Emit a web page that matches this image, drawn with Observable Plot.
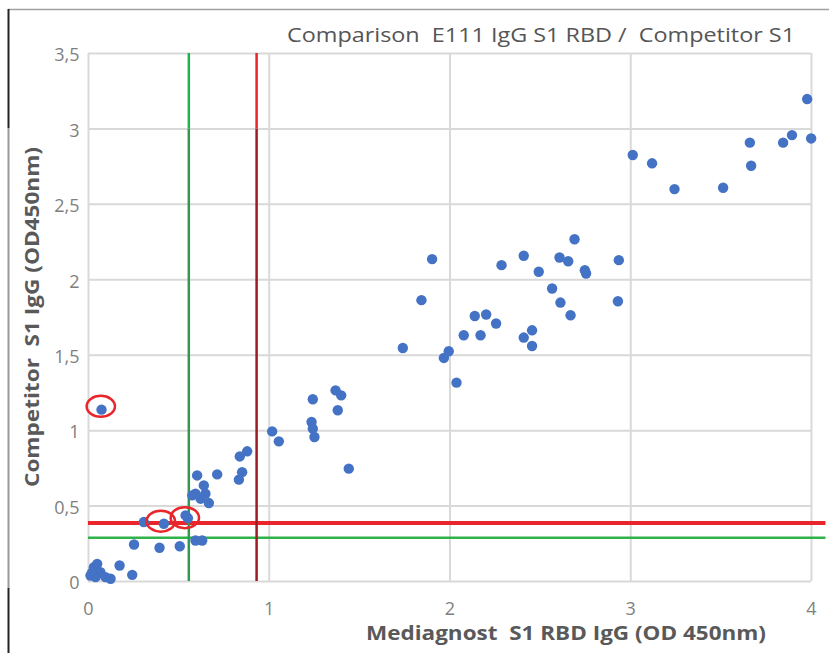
<!DOCTYPE html>
<html>
<head>
<meta charset="utf-8">
<script src="https://cdn.jsdelivr.net/npm/d3@7"></script>
<script src="https://cdn.jsdelivr.net/npm/@observablehq/plot@0.6"></script>
<style>
  html, body { margin: 0; padding: 0; background: #fff; }
  #chart svg { display: block; }
</style>
</head>
<body>
<div id="chart"></div>
<script>
const title = "Comparison  E111 IgG S1 RBD /  Competitor S1";
const xLabel = "Mediagnost  S1 RBD IgG (OD 450nm)";
const yLabel = "Competitor  S1 IgG (OD450nm)";

const xTicks = [0, 1, 2, 3, 4];
const yTicks = [0, 0.5, 1, 1.5, 2, 2.5, 3, 3.5];

// Mediagnost S1 RBD IgG (x) vs Competitor S1 IgG (y)
const mediagnost = [
  0.011, 0.030, 0.048, 0.066, 0.039, 0.094, 0.122, 0.020,
  0.172, 0.242, 0.252, 0.306, 0.417, 0.393, 0.505, 0.537, 0.550, 0.592, 0.629,
  0.601, 0.712, 0.638, 0.592, 0.647, 0.620, 0.666, 0.574,
  0.832, 0.850, 0.837, 0.878, 1.016, 1.053,
  0.072,
  1.241, 1.367, 1.398, 1.379, 1.234, 1.241, 1.250, 1.440,
  1.739, 1.842, 1.901, 1.993, 1.966, 2.036, 2.076, 2.137, 2.200, 2.169, 2.255,
  2.285, 2.408, 2.491, 2.454, 2.408, 2.454, 2.565, 2.606, 2.654, 2.689, 2.611,
  2.667, 2.746, 2.753, 2.934, 2.929,
  3.011, 3.118, 3.242, 3.511, 3.659, 3.666, 3.843, 3.892, 3.998, 3.976
];
const competitor = [
  0.040, 0.095, 0.117, 0.062, 0.029, 0.029, 0.018, 0.060,
  0.106, 0.044, 0.245, 0.394, 0.383, 0.224, 0.234, 0.438, 0.420, 0.272, 0.272,
  0.703, 0.710, 0.637, 0.582, 0.582, 0.549, 0.520, 0.571,
  0.675, 0.725, 0.829, 0.863, 0.995, 0.929,
  1.139,
  1.208, 1.267, 1.234, 1.135, 1.057, 1.013, 0.958, 0.748,
  1.548, 1.865, 2.137, 1.526, 1.482, 1.318, 1.632, 1.760, 1.770, 1.632, 1.710,
  2.097, 2.159, 2.053, 1.665, 1.617, 1.561, 1.942, 2.148, 2.123, 2.269, 1.849,
  1.765, 2.064, 2.042, 2.130, 1.858,
  2.827, 2.772, 2.601, 2.610, 2.909, 2.756, 2.909, 2.959, 2.937, 3.198
];

// highlighted (circled) samples
const circledX = [0.068, 0.400, 0.533];
const circledY = [1.161, 0.400, 0.423];

// cut-off lines
const cutoffGreenX = 0.555;
const cutoffRedX = 0.93;
const cutoffRedY = 0.387;
const cutoffGreenY = 0.29;

const points = mediagnost.map((x, i) => ({x, y: competitor[i]}));
const circled = circledX.map((x, i) => ({x, y: circledY[i]}));

const ellipse = {
  draw(context, size) {
    const r = Math.sqrt(size / Math.PI);
    const rx = r * 1.35, ry = r;
    const k = 0.5523;
    context.moveTo(rx, 0);
    context.bezierCurveTo(rx, k * ry, k * rx, ry, 0, ry);
    context.bezierCurveTo(-k * rx, ry, -rx, k * ry, -rx, 0);
    context.bezierCurveTo(-rx, -k * ry, -k * rx, -ry, 0, -ry);
    context.bezierCurveTo(k * rx, -ry, rx, -k * ry, rx, 0);
    context.closePath();
  }
};

const fmt = d => String(d).replace(".", ",");
const font = "'Open Sans', 'DejaVu Sans', sans-serif";

const plot = Plot.plot({
  width: 829,
  height: 653,
  marginLeft: 88,
  marginRight: 18,
  marginTop: 53,
  marginBottom: 72,
  style: {background: "#fff", fontFamily: font},
  x: {domain: [0, 4]},
  y: {domain: [0, 3.5]},
  marks: [
    Plot.gridX(xTicks, {stroke: "#d9d9d9", strokeOpacity: 1, strokeWidth: 2}),
    Plot.gridY(yTicks, {stroke: "#d9d9d9", strokeOpacity: 1, strokeWidth: 2}),
    Plot.axisX(xTicks, {tickSize: 0, tickPadding: 21, fontSize: 18, fill: "#7f7f7f", tickFormat: fmt, label: null}),
    Plot.axisY(yTicks, {tickSize: 0, tickPadding: 9, fontSize: 18, fill: "#7f7f7f", tickFormat: fmt, label: null, dy: 2}),
    Plot.ruleY([cutoffGreenY], {x1: 0, x2: 4.08, stroke: "#2fb34a", strokeWidth: 2.5, clip: false}),
    Plot.ruleY([cutoffRedY], {x1: 0, x2: 4.08, stroke: "#e8262b", strokeWidth: 4, clip: false}),
    Plot.ruleX([cutoffGreenX], {y1: 0, y2: 3, stroke: "#2f9a50", strokeWidth: 2.5}),
    Plot.ruleX([cutoffGreenX], {y1: 3, y2: 3.5, stroke: "#1db34d", strokeWidth: 2.5}),
    Plot.ruleX([cutoffRedX], {y1: 0, y2: 3, stroke: "#9c1c22", strokeWidth: 2.5}),
    Plot.ruleX([cutoffRedX], {y1: 3, y2: 3.5, stroke: "#e8262b", strokeWidth: 2.5}),
    Plot.dot(points, {x: "x", y: "y", r: 5.2, fill: "#4472c4", stroke: "none"}),
    Plot.dot(circled, {x: "x", y: "y", r: 10.5, symbol: ellipse, fill: "none", stroke: "#e8262b", strokeWidth: 2.5})
  ]
});

document.getElementById("chart").appendChild(plot);

const svg = d3.select(plot);
// frame borders of the original picture
svg.append("line").attr("x1", 8).attr("x2", 829).attr("y1", 9.5).attr("y2", 9.5)
  .attr("stroke", "#a0a0a0").attr("stroke-width", 1.5);
svg.append("line").attr("x1", 8.5).attr("x2", 8.5).attr("y1", 9).attr("y2", 128)
  .attr("stroke", "#222").attr("stroke-width", 2);
svg.append("line").attr("x1", 8.5).attr("x2", 8.5).attr("y1", 128).attr("y2", 588)
  .attr("stroke", "#9a9a9a").attr("stroke-width", 2);
svg.append("line").attr("x1", 8.5).attr("x2", 8.5).attr("y1", 588).attr("y2", 653)
  .attr("stroke", "#222").attr("stroke-width", 2);

svg.append("text").text(title)
  .attr("x", 287).attr("y", 42)
  .attr("text-anchor", "start")
  .attr("font-family", font).attr("font-size", 20)
  .attr("fill", "#555555")
  .attr("textLength", 508).attr("lengthAdjust", "spacingAndGlyphs");

svg.append("text").text(xLabel)
  .attr("x", 566).attr("y", 640)
  .attr("text-anchor", "middle")
  .attr("font-family", font).attr("font-size", 20).attr("font-weight", "bold")
  .attr("fill", "#595959")
  .attr("textLength", 400).attr("lengthAdjust", "spacingAndGlyphs");

svg.append("text").text(yLabel)
  .attr("transform", "translate(39,317) rotate(-90)")
  .attr("text-anchor", "middle")
  .attr("font-family", font).attr("font-size", 20).attr("font-weight", "bold")
  .attr("fill", "#595959")
  .attr("textLength", 340).attr("lengthAdjust", "spacingAndGlyphs");
</script>
</body>
</html>
